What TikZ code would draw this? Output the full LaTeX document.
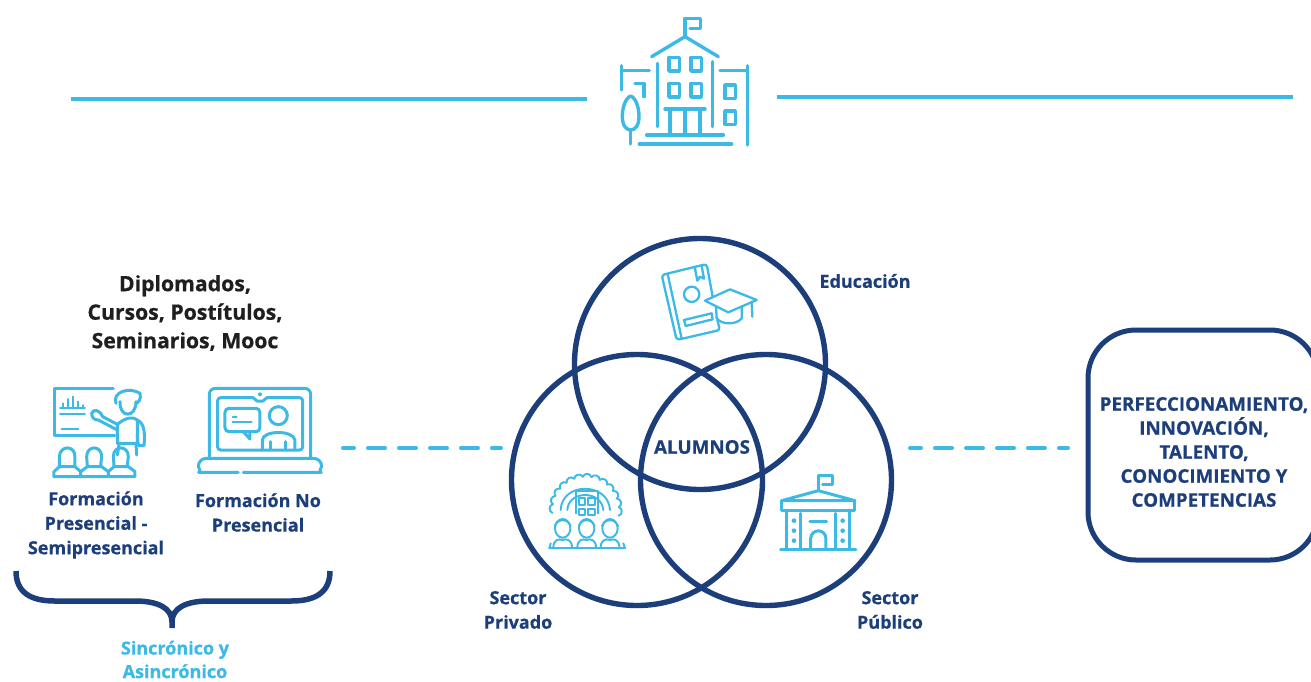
\documentclass[tikz,border=0pt]{standalone}
\usepackage{fontspec}
\setmainfont[BoldFeatures={FakeBold=0.6}]{Open Sans}
\definecolor{skyc}{HTML}{3DB9E6}
\definecolor{navyc}{HTML}{1C3F7C}
\tikzset{
  rule/.style={draw=skyc,line width=4pt},
  dashrule/.style={draw=skyc,line width=4pt,line cap=round,dash pattern=on 17pt off 14pt,dash phase=6pt},
  ring/.style={circle,draw=navyc,line width=5.4pt,minimum size=251pt,inner sep=0pt},
  lab/.style={font=\bfseries\fontsize{18}{24.5}\selectfont,text=navyc,align=center,inner sep=0pt},
  labcaps/.style={lab,font=\bfseries\fontsize{18.8}{24}\selectfont},
  labsky/.style={lab,text=skyc,font=\bfseries\fontsize{18}{23.5}\selectfont},
  labblack/.style={lab,text=black!88,font=\bfseries\fontsize{21.2}{28.5}\selectfont},
  icon/.style={draw=skyc,line width=#1,line cap=round,line join=round},
  icon/.default=2.6pt
}
\begin{document}
\begin{tikzpicture}[x=1pt,y=-1pt]
\useasboundingbox (0,0) rectangle (1311,681);
\clip (0,0) rectangle (1311,681);
\fill[white] (0,0) rectangle (1311,681);

% top rules
\coordinate (r1a) at (71,99); \coordinate (r1b) at (587,99);
\coordinate (r2a) at (777,97); \coordinate (r2b) at (1293,97);
\draw[rule] (r1a) -- (r1b);
\draw[rule] (r2a) -- (r2b);

% school icon
\begin{scope}[shift={(590,0)},x=0.3333pt,y=-0.3333pt,icon=3.4pt]
\draw (285,110) -- (285,55) -- (332,55) -- (332,85) -- (300,85);
\draw (185,170) -- (285,110) -- (385,170);
\draw (202,190) -- (202,380) (368,185) -- (368,380);
\foreach \a/\b in {237/172,303/172,237/250,303/250,405/255,405/333}
  \draw (\a,\b) rectangle ++(31,41);
\draw (225,327) -- (345,327);
\draw (240,327) -- (240,405) (330,327) -- (330,405) (285,335) -- (285,405);
\draw (170,405) -- (400,405) (148,432) -- (425,432);
\draw (95,197) -- (95,270) (95,212) -- (178,212);
\draw (135,250) -- (162,250) -- (162,290);
\draw (390,212) -- (472,212) (472,197) -- (472,435);
\draw (122,288) .. controls (105,295) and (97,325) .. (97,350) .. controls (97,378) and (110,390) .. (122,390) .. controls (134,390) and (147,378) .. (147,350) .. controls (147,325) and (139,295) .. (122,288);
\draw (122,390) -- (122,432);
\end{scope}

% heading
\node[labblack] (cursos) at (185,313) {Diplomados,\\Cursos, Postítulos,\\Seminarios, Mooc};

% teacher icon
\begin{scope}[shift={(30,375)},x=0.3333pt,y=-0.3333pt,icon=3pt]
\draw (250,40) -- (75,40) -- (75,182) -- (255,182);
\draw[line width=1.8pt] (90,100) -- (165,100) (90,118) -- (165,118) (95,162) -- (145,162);
\draw[line width=1.8pt] (100,100) -- (100,85) (115,100) -- (115,72) (130,100) -- (130,65) (145,100) -- (145,80) (158,100) -- (158,90);
\draw (258,85) .. controls (245,50) and (300,35) .. (330,55) .. controls (335,70) and (325,85) .. (318,85);
\draw (270,80) .. controls (268,130) and (318,130) .. (318,80);
\draw (185,115) .. controls (190,100) and (210,105) .. (218,125) -- (262,148) -- (262,205) -- (322,205) -- (322,135) .. controls (310,125) and (290,125) .. (262,148);
\draw (185,115) .. controls (185,130) and (195,135) .. (205,135) -- (262,165);
\draw (322,135) .. controls (345,145) and (345,180) .. (342,212) -- (325,212) -- (322,180);
\draw (268,205) -- (262,240) (318,205) -- (320,240);
\draw (88,272) -- (88,245) .. controls (90,210) and (135,210) .. (135,245) -- (135,272);
\draw (170,245) .. controls (170,210) and (215,210) .. (215,245) -- (212,272) (170,245) -- (172,272);
\draw (250,245) .. controls (250,210) and (295,210) .. (295,245) -- (292,272) (250,245) -- (252,272);
\draw (72,305) -- (72,290) -- (88,275) -- (135,275) -- (152,290) -- (152,305);
\draw (152,290) -- (172,275) -- (215,275) -- (235,290) -- (235,305);
\draw (235,290) -- (252,275) -- (295,275) -- (315,290) -- (315,305) -- (72,305);
\end{scope}

% laptop icon
\begin{scope}[shift={(30,375)},x=0.3333pt,y=-0.3333pt,icon=3pt]
\draw[rounded corners=6pt] (538,245) -- (538,40) -- (842,40) -- (842,245);
\draw[rounded corners=3pt] (563,225) -- (563,68) -- (660,68) .. controls (675,68) and (675,78) .. (690,78) .. controls (705,78) and (705,68) .. (720,68) -- (818,68) -- (818,225) -- cycle;
\fill[skyc] (690,58) circle (6);
\draw[rounded corners=4pt] (585,100) rectangle (690,170);
\draw (640,170) -- (660,192) -- (660,170);
\draw[line width=1.8pt] (608,125) -- (620,125) (608,142) -- (665,142);
\draw (745,122) circle (27);
\draw (697,225) -- (697,195) .. controls (700,165) and (790,165) .. (795,195) -- (795,225);
\draw (722,200) -- (722,222) (768,200) -- (768,222);
\draw[rounded corners=8pt] (625,292) -- (530,292) .. controls (515,292) and (505,275) .. (505,250) -- (875,250) .. controls (875,275) and (865,292) .. (850,292) -- (640,292);
\end{scope}

% formation labels
\node[lab] (fp) at (96,525) {Formación\\Presencial -\\Semipresencial};
\node[lab] (fn) at (258,512.5) {Formación No\\Presencial};

% brace
\coordinate (brL) at (16,571); \coordinate (brR) at (330,571);
\coordinate (brT) at (172,628);
\draw[navyc,line width=5.5pt] (brL) .. controls (16,592) and (30,601) .. (55,601) -- (135,601) .. controls (158,601) and (172,608) .. (172,622) -- (brT) (172,622) .. controls (172,608) and (186,601) .. (209,601) -- (291,601) .. controls (316,601) and (330,592) .. (brR);
\node[labsky] (sinc) at (175,659.5) {Sincrónico y\\Asincrónico};

% dashed connectors
\coordinate (d1a) at (343,448); \coordinate (d1b) at (501,448);
\coordinate (d2a) at (910,448); \coordinate (d2b) at (1068,448);
\draw[dashrule] (d1a) -- (d1b);
\draw[dashrule] (d2a) -- (d2b);

% venn
\node[ring] (cE) at (700,364) {};
\node[ring] (cP) at (637,480) {};
\node[ring] (cS) at (766,480) {};
\node[labcaps] (alum) at (702,447) {ALUMNOS};
\node[lab] (edu) at (865,281) {Educación};
\node[lab] (priv) at (518,610) {Sector\\Privado};
\node[lab] (pub) at (890,610) {Sector\\Público};

% book + cap icon
\begin{scope}[shift={(640,250)},x=0.3333pt,y=-0.3333pt,icon=2.3pt]
\draw[rounded corners=3pt] (218,140) -- (200,42) -- (65,75) -- (110,270) -- (240,240) -- (232,210);
\draw (83,72) -- (125,266);
\draw (155,133) circle (23);
\draw (132,210) -- (215,190) -- (218,208) -- (137,228) -- cycle;
\draw (165,55) -- (172,92) -- (180,80) -- (192,86) -- (185,48);
\draw (195,152) -- (270,118) -- (350,150) -- (265,187) -- cycle;
\draw (228,170) -- (230,205) .. controls (245,225) and (290,225) .. (305,205) -- (305,170);
\draw (335,155) -- (337,200);
\end{scope}

% sector privado icon
\begin{scope}[shift={(530,460)},x=0.3333pt,y=-0.3333pt,icon=1.9pt]
\foreach \a in {-10,5,...,175}{
  \draw ({167+100*cos(\a)},{150-100*sin(\a)}) .. controls ({167+112*cos(\a+3)},{150-112*sin(\a+3)}) and ({167+112*cos(\a+12)},{150-112*sin(\a+12)}) .. ({167+100*cos(\a+15)},{150-100*sin(\a+15)});
}
\draw (92,150) .. controls (95,65) and (235,65) .. (240,150);
\draw (112,150) .. controls (115,90) and (215,90) .. (220,150);
\draw (138,160) -- (138,92) -- (205,92) -- (205,160);
\draw (148,115) rectangle (165,135) (175,115) rectangle (195,135) (148,148) rectangle (165,165) (175,148) rectangle (195,165);
\foreach \c in {98,170,240}{
  \draw (\c,205) circle [x radius=23,y radius=28];
  \draw (\c-24,198) .. controls (\c-15,175) and (\c+15,175) .. (\c+24,198);
  \draw (\c-28,262) .. controls (\c-28,240) and (\c-12,235) .. (\c,240) .. controls (\c+12,235) and (\c+28,240) .. (\c+28,262);
}
\draw (58,265) -- (285,265);
\draw (62,250) -- (58,265) (280,250) -- (285,265);
\end{scope}

% sector publico icon
\begin{scope}[shift={(530,460)},x=0.3333pt,y=-0.3333pt,icon=3pt]
\draw (865,92) -- (865,45) -- (908,45) -- (908,72) -- (878,72);
\draw (755,122) -- (865,92) -- (975,122) -- cycle;
\draw (755,122) -- (755,150) -- (975,150) -- (975,122);
\draw (770,150) -- (770,268) (960,150) -- (960,268);
\draw (812,160) -- (812,268) (918,160) -- (918,268);
\draw (752,268) -- (978,268);
\draw (840,185) -- (890,185);
\draw (842,268) -- (842,235) .. controls (845,205) and (885,205) .. (888,235) -- (888,268);
\foreach \a in {792,938} \foreach \b in {182,212,242}
  \fill[skyc] (\a,\b) circle (7);
\end{scope}

% result box
\node[draw=navyc,line width=5pt,rounded corners=48pt,minimum width=230pt,minimum height=230pt,inner sep=0pt] (box) at (1203,445) {};
\node[labcaps] (txt) at (1204,452) {PERFECCIONAMIENTO,\\INNOVACIÓN,\\TALENTO,\\CONOCIMIENTO Y\\COMPETENCIAS};
\end{tikzpicture}
\end{document}
